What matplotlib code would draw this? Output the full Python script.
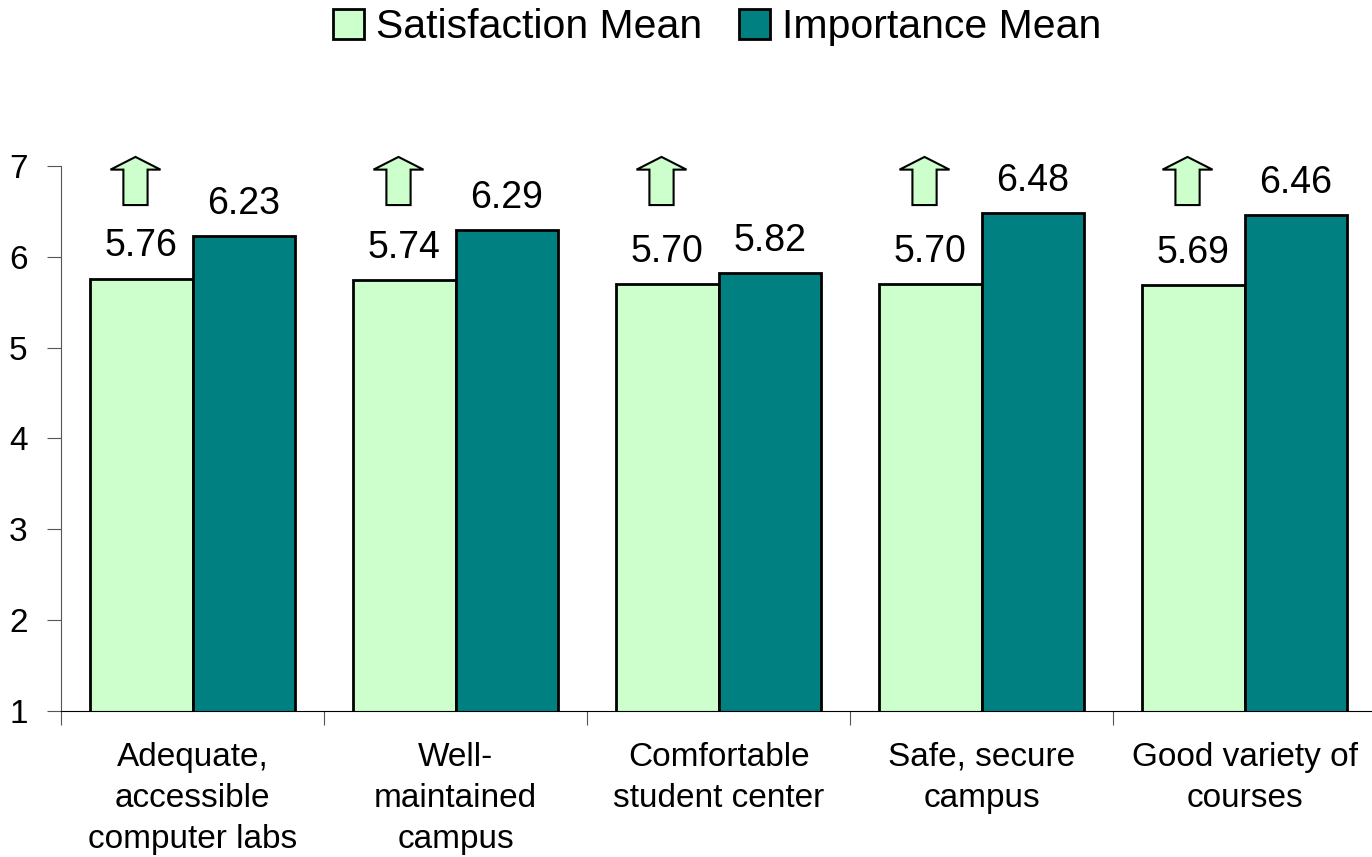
import numpy as np
import matplotlib.pyplot as plt
from matplotlib.patches import Polygon

plt.rcParams['font.family'] = ['Liberation Sans', 'DejaVu Sans']

categories = ['Adequate,\naccessible\ncomputer labs', 'Well-\nmaintained\ncampus',
              'Comfortable\nstudent center', 'Safe, secure\ncampus', 'Good variety of\ncourses']
satisfaction = [5.76, 5.74, 5.70, 5.70, 5.69]
importance = [6.23, 6.29, 5.82, 6.48, 6.46]

green = '#CCFFCC'
teal = '#008080'

fig = plt.figure(figsize=(13.72, 8.57), dpi=100)
ax = fig.add_axes([0.0445, 0.1704, 0.9585, 0.6359])

x = np.arange(len(categories))
w = 0.39
ax.bar(x - w / 2, satisfaction, w, bottom=0, color=green, edgecolor='black', linewidth=2,
       label='Satisfaction Mean', zorder=2)
ax.bar(x + w / 2, importance, w, bottom=0, color=teal, edgecolor='black', linewidth=2,
       label='Importance Mean', zorder=2)

for xi, s, imp in zip(x, satisfaction, importance):
    ax.annotate(f'{s:.2f}', (xi - w / 2, s), xytext=(0, 16), textcoords='offset points',
                ha='center', va='baseline', fontsize=27)
    ax.annotate(f'{imp:.2f}', (xi + w / 2, imp), xytext=(0, 16), textcoords='offset points',
                ha='center', va='baseline', fontsize=27)
    # up arrow above each satisfaction bar
    cx = xi - 0.217
    sw, hw = 0.046, 0.095
    y0, yh, y1 = 6.57, 6.96, 7.10
    pts = [(cx - sw, y0), (cx + sw, y0), (cx + sw, yh), (cx + hw, yh),
           (cx, y1), (cx - hw, yh), (cx - sw, yh)]
    ax.add_patch(Polygon(pts, closed=True, facecolor=green, edgecolor='black',
                         linewidth=1.5, clip_on=False, zorder=3))

ax.set_ylim(1, 7)
ax.set_xlim(-0.5, 4.5)
ax.set_yticks(range(1, 8))
ax.set_xticks(np.arange(-0.5, 5, 1), minor=False)
ax.set_xticklabels([])
ax.set_xticks(x, minor=True)
ax.set_xticklabels(categories, minor=True, fontsize=24, linespacing=1.42)
ax.tick_params(axis='x', which='minor', length=0, pad=22)
ax.tick_params(axis='x', which='major', length=10, color='#555555')
ax.tick_params(axis='y', labelsize=24, length=10, color='#555555', pad=14)

ax.spines['top'].set_visible(False)
ax.spines['right'].set_visible(False)
ax.spines['left'].set_color('#555555')
ax.spines['bottom'].set_color('black')

fig.legend(loc='center', bbox_to_anchor=(0.523, 0.968), ncol=2, frameon=False,
           fontsize=29.5, handlelength=0.75, handleheight=0.75, handletextpad=0.3,
           columnspacing=0.9, borderaxespad=0)

plt.savefig('out.png', dpi=100)
